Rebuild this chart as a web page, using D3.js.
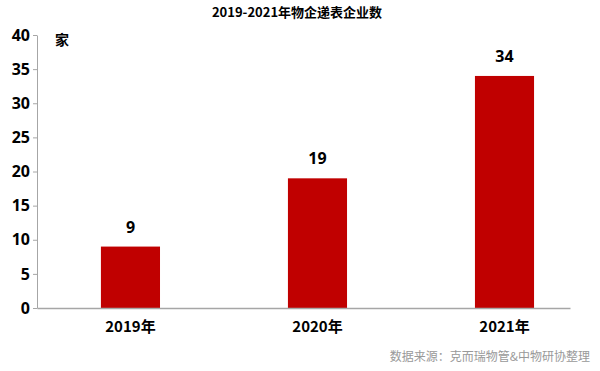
<!DOCTYPE html>
<html>
<head>
<meta charset="utf-8">
<script src="https://cdn.jsdelivr.net/npm/d3@7"></script>
<style>
  body { margin: 0; background: #fff; }
  text { font-family: "Noto Sans CJK SC", "Noto Sans", sans-serif; }
</style>
</head>
<body>
<div id="chart"></div>
<script>
const years = ['2019年', '2020年', '2021年'];
const counts = [9, 19, 34];
const yTicks = [0, 5, 10, 15, 20, 25, 30, 35, 40];

const width = 600, height = 371;
const svg = d3.select('#chart').append('svg')
  .attr('width', width).attr('height', height);

const x = d3.scaleBand()
  .domain(years)
  .range([37, 570])
  .paddingInner(0.684)
  .paddingOuter(0.267)
  .align(0.64);

const y = d3.scaleLinear().domain([0, 40]).range([308, 35]);

// Title
svg.append('text')
  .attr('x', 297).attr('y', 17)
  .attr('text-anchor', 'middle')
  .style('font-size', '13px').style('font-weight', '700')
  .text('2019-2021年物企递表企业数');

// Y axis
const yAxis = svg.append('g')
  .attr('transform', 'translate(37,0)')
  .call(d3.axisLeft(y).tickValues(yTicks).tickSize(4).tickSizeOuter(0));
yAxis.select('.domain').attr('stroke', '#a6a6a6');
yAxis.selectAll('.tick line').attr('stroke', '#a6a6a6');
yAxis.selectAll('.tick text')
  .attr('x', -7)
  .attr('fill', '#000')
  .style('font-size', '16px').style('font-weight', '700')
  .style('font-family', '"Noto Sans", sans-serif');

// Unit
svg.append('text')
  .attr('x', 55).attr('y', 45)
  .style('font-size', '14px').style('font-weight', '700')
  .text('家');

// Bars
svg.selectAll('rect.bar')
  .data(counts)
  .join('rect')
  .attr('class', 'bar')
  .attr('x', (d, i) => x(years[i]))
  .attr('y', d => y(d))
  .attr('width', x.bandwidth())
  .attr('height', d => y(0) - y(d))
  .attr('fill', '#c00000');

// Value labels
svg.selectAll('text.val')
  .data(counts)
  .join('text')
  .attr('class', 'val')
  .attr('x', (d, i) => x(years[i]) + x.bandwidth() / 2)
  .attr('y', d => y(d) - 14)
  .attr('text-anchor', 'middle')
  .style('font-size', '16px').style('font-weight', '700')
  .style('font-family', '"Noto Sans", sans-serif')
  .text(d => d);

// X axis
const xAxis = svg.append('g')
  .attr('transform', 'translate(0,308)')
  .call(d3.axisBottom(x).tickSize(0).tickSizeOuter(0));
xAxis.select('.domain').attr('stroke', '#a6a6a6').attr('stroke-width', 1.5);
xAxis.selectAll('.tick text')
  .attr('y', 13)
  .attr('fill', '#000')
  .style('font-size', '15px').style('font-weight', '700');

// Source
svg.append('text')
  .attr('x', 590).attr('y', 361)
  .attr('text-anchor', 'end')
  .attr('fill', '#999')
  .style('font-size', '12px')
  .text('数据来源：克而瑞物管&中物研协整理');
</script>
</body>
</html>
